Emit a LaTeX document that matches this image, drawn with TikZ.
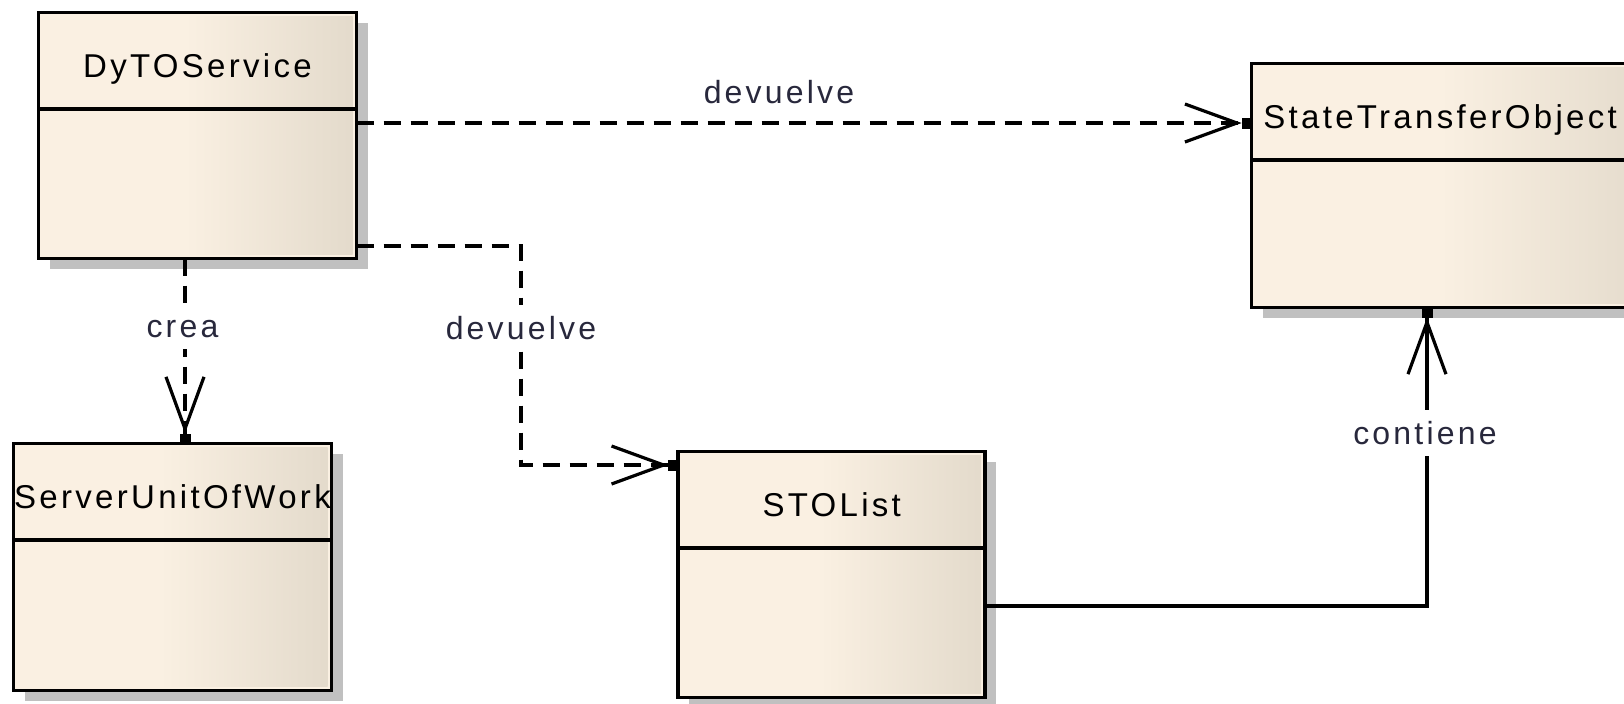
\documentclass[tikz,border=0pt]{standalone}
\usepackage{fontspec}
\usetikzlibrary{arrows.meta,calc,shadows}
\newfontfamily\umlfont[LetterSpace=10]{Liberation Sans}

\definecolor{cream}{RGB}{250,240,226}
\definecolor{beige}{RGB}{227,218,203}
\definecolor{shadowgray}{RGB}{192,192,192}
\definecolor{labelink}{RGB}{40,40,60}

% cream over the left half, fading to beige towards the right edge
% (25bp and 75bp are the edges of the shaded path)
\pgfdeclarehorizontalshading{classfill}{100bp}{
  color(0bp)=(cream); color(25bp)=(cream); color(48bp)=(cream);
  color(75bp)=(beige); color(100bp)=(beige)}

\tikzset{
  umlclass/.style={
    rectangle, draw=black, line width=1.85pt, inner sep=0pt, outer sep=0pt,
    fill=cream,
    general shadow={fill=shadowgray, shadow xshift=5.5pt, shadow yshift=-5pt},
    path picture={
      \shade[shading=classfill]
        ($(path picture bounding box.north west)+(2pt,-2pt)$) rectangle
        ($(path picture bounding box.south east)+(-2pt,2pt)$);
      \draw[line width=1.85pt]
        ($(path picture bounding box.north west)+(0,-48.25pt)$) --
        ($(path picture bounding box.north east)+(0,-48.25pt)$);
    }},
  classname/.style={anchor=base, inner sep=0pt, text=black,
    font=\umlfont\fontsize{16.5}{20}\selectfont},
  connlabel/.style={anchor=base, fill=white, inner xsep=2pt, inner ysep=5pt,
    text height=12pt, text depth=1pt, text=labelink,
    font=\umlfont\fontsize{16}{19}\selectfont},
  umltip/.style={-{Straight Barb[length=26pt,width=19pt,line width=1.6pt]
    Square[length=5pt,width=5.5pt]}},
  dependency/.style={umltip, line width=1.6pt, dash pattern=on 8.5pt off 5pt},
  association/.style={umltip, line width=1.85pt},
}

\begin{document}
\begin{tikzpicture}[x=0.5pt, y=-0.5pt]
  \useasboundingbox (0,0) rectangle (1624,703);
  \clip (0,0) rectangle (1624,703);
  \fill[white] (0,0) rectangle (1624,703);

  % classes
  \node[umlclass, minimum width=159pt, minimum height=123pt] (dyto) at (197.5,135.5) {};
  \node[umlclass, minimum width=204pt, minimum height=122pt] (sto) at (1455.6,185.5) {};
  \node[umlclass, minimum width=159pt, minimum height=123.5pt] (suow) at (172.5,567) {};
  \node[umlclass, minimum width=153.5pt, minimum height=123pt] (stolist) at (831.7,574.5) {};

  % class names
  \node[classname] (dytoname) at ($(dyto.north)+(0,-32.25pt)$) {DyTOService};
  \node[classname, anchor=base west] (stoname) at ($(sto.north west)+(5.7pt,-32.25pt)$) {StateTransferObject};
  \node[classname] (suowname) at ($(suow.north)+(0,-32.25pt)$) {ServerUnitOfWork};
  \node[classname] (stolistname) at ($(stolist.north)+(0,-32.25pt)$) {STOList};

  % DyTOService returns a StateTransferObject
  \draw[dependency] (dyto.east |- 0,123) -- (sto.west |- 0,123);
  \node[connlabel, fill=none] (lblret1) at (779,103) {devuelve};

  % DyTOService returns an STOList
  \draw[dependency] (dyto.east |- 0,246) -- (521,246) -- (521,465) -- (stolist.west |- 0,465);
  \node[connlabel] (lblret2) at (521,339) {devuelve};

  % DyTOService creates the ServerUnitOfWork
  \draw[dependency] (185,0 |- dyto.south) -- (185,0 |- suow.north);
  \node[connlabel] (lblcrea) at (182.5,337) {crea};

  % STOList contains StateTransferObjects
  \draw[association] (stolist.east |- 0,606) -- (1427,606) -- (1427,0 |- sto.south);
  \node[connlabel] (lblcont) at (1425,444) {contiene};
\end{tikzpicture}
\end{document}
